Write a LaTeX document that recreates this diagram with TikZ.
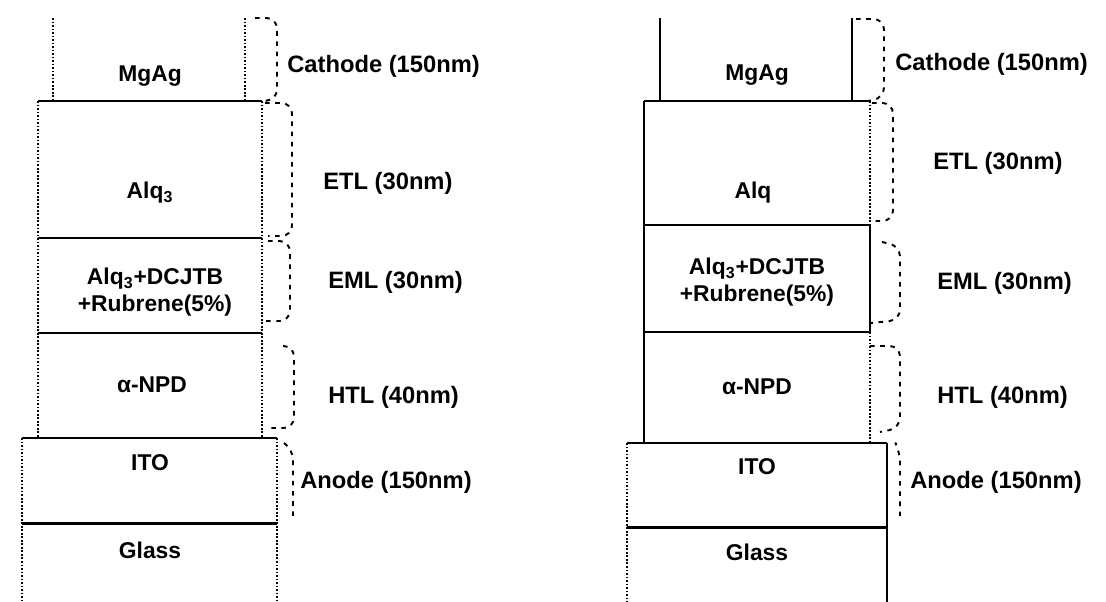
\documentclass[tikz,border=0pt]{standalone}
\usepackage{fontspec}
\setmainfont{Liberation Sans}
\usetikzlibrary{positioning, calc}

\begin{document}
\begin{tikzpicture}[
  x=0.02cm, y=-0.02cm,
  layertext/.style={font=\bfseries\fontsize{13}{15.5}\selectfont, align=center, inner sep=0pt},
  bracetext/.style={font=\bfseries\fontsize{13.5}{16}\selectfont, anchor=west, inner sep=0pt},
  side/.style={line width=0.9pt},
  dotside/.style={line width=1pt, dash pattern=on 1pt off 1pt},
  iface/.style={line width=1.7pt},
  thiniface/.style={line width=1.1pt},
  brace/.style={line width=1.1pt, dash pattern=on 2.6pt off 3.2pt, rounded corners=6pt}
]
\useasboundingbox (0,0) rectangle (1106,602);

% left stack
\draw[dotside] (53,18) -- (53,101);
\draw[dotside] (245,18) -- (245,101);
\draw[dotside] (38,101) -- (38,438);
\draw[dotside] (262,101) -- (262,438);
\draw[dotside] (22,438) -- (22,602);
\draw[dotside] (277,438) -- (277,602);
\draw[iface] (38,101) -- (262,101);
\draw[iface] (38,238) -- (262,238);
\draw[thiniface] (38,333) -- (262,333);
\draw[iface] (22,438) -- (277,438);
\draw[iface] (22,523) -- (277,523);

\node[layertext] (lmgag) at (150,76) {MgAg};
\node[layertext] (lalq) at (150,193) {Alq\textsubscript{3}};
\node[layertext] (leml) at (155,292) {Alq\textsubscript{3}+DCJTB\\+Rubrene(5\%)};
\node[layertext] (lnpd) at (152,385) {α-NPD};
\node[layertext] (lito) at (150,463) {ITO};
\node[layertext] (lglass) at (150,550) {Glass};

% left braces
\draw[brace] (255,18) -- (277,18) -- (277,100) -- (262,101);
\draw[brace] (265,103) -- (292,103) -- (292,236) -- (268,236);
\draw[brace] (268,241) -- (290,241) -- (290,321) -- (265,321);
\draw[brace] (283,346) -- (294,346) -- (294,428) -- (270,428);
\draw[brace] (284,443) -- (293,449) -- (293,520);

\node[bracetext] (lcath) at (287,66) {Cathode (150nm)};
\node[bracetext] (letl) at (323,183) {ETL (30nm)};
\node[bracetext] (leml2) at (328,282) {EML (30nm)};
\node[bracetext] (lhtl) at (328,397) {HTL (40nm)};
\node[bracetext] (lanode) at (300,482) {Anode (150nm)};

% right stack
\draw[side, line width=1.4pt] (660,18) -- (660,101);
\draw[side, line width=1.4pt] (852,18) -- (852,101);
\draw[side] (644,101) -- (644,443);
\draw[dotside] (870,101) -- (870,225);
\draw[side] (870,225) -- (870,332);
\draw[dotside] (870,332) -- (870,443);
\draw[dotside] (627,443) -- (627,602);
\draw[side] (887,443) -- (887,602);
\draw[iface] (644,101) -- (870,101);
\draw[iface] (644,225) -- (870,225);
\draw[iface] (644,332) -- (870,332);
\draw[thiniface] (627,443) -- (887,443);
\draw[iface] (627,527) -- (887,527);

\node[layertext] (rmgag) at (757,75) {MgAg};
\node[layertext] (ralq) at (753,193) {Alq};
\node[layertext] (reml) at (757,282) {Alq\textsubscript{3}+DCJTB\\+Rubrene(5\%)};
\node[layertext] (rnpd) at (757,387) {α-NPD};
\node[layertext] (rito) at (757,467) {ITO};
\node[layertext] (rglass) at (757,552) {Glass};

% right braces
\draw[brace] (856,19) -- (884,19) -- (884,98) -- (868,101);
\draw[brace] (872,103) -- (893,103) -- (893,221) -- (873,221);
\draw[brace] (882,242) -- (900,246) -- (900,320) -- (871,323);
\draw[brace] (870,346) -- (900,346) -- (900,428) -- (880,432);
\draw[brace] (896,444) -- (900,452) -- (900,518);

\node[bracetext] (rcath) at (895,64) {Cathode (150nm)};
\node[bracetext] (retl) at (933,163) {ETL (30nm)};
\node[bracetext] (reml2) at (937,283) {EML (30nm)};
\node[bracetext] (rhtl) at (937,397) {HTL (40nm)};
\node[bracetext] (ranode) at (910,482) {Anode (150nm)};
\end{tikzpicture}
\end{document}
